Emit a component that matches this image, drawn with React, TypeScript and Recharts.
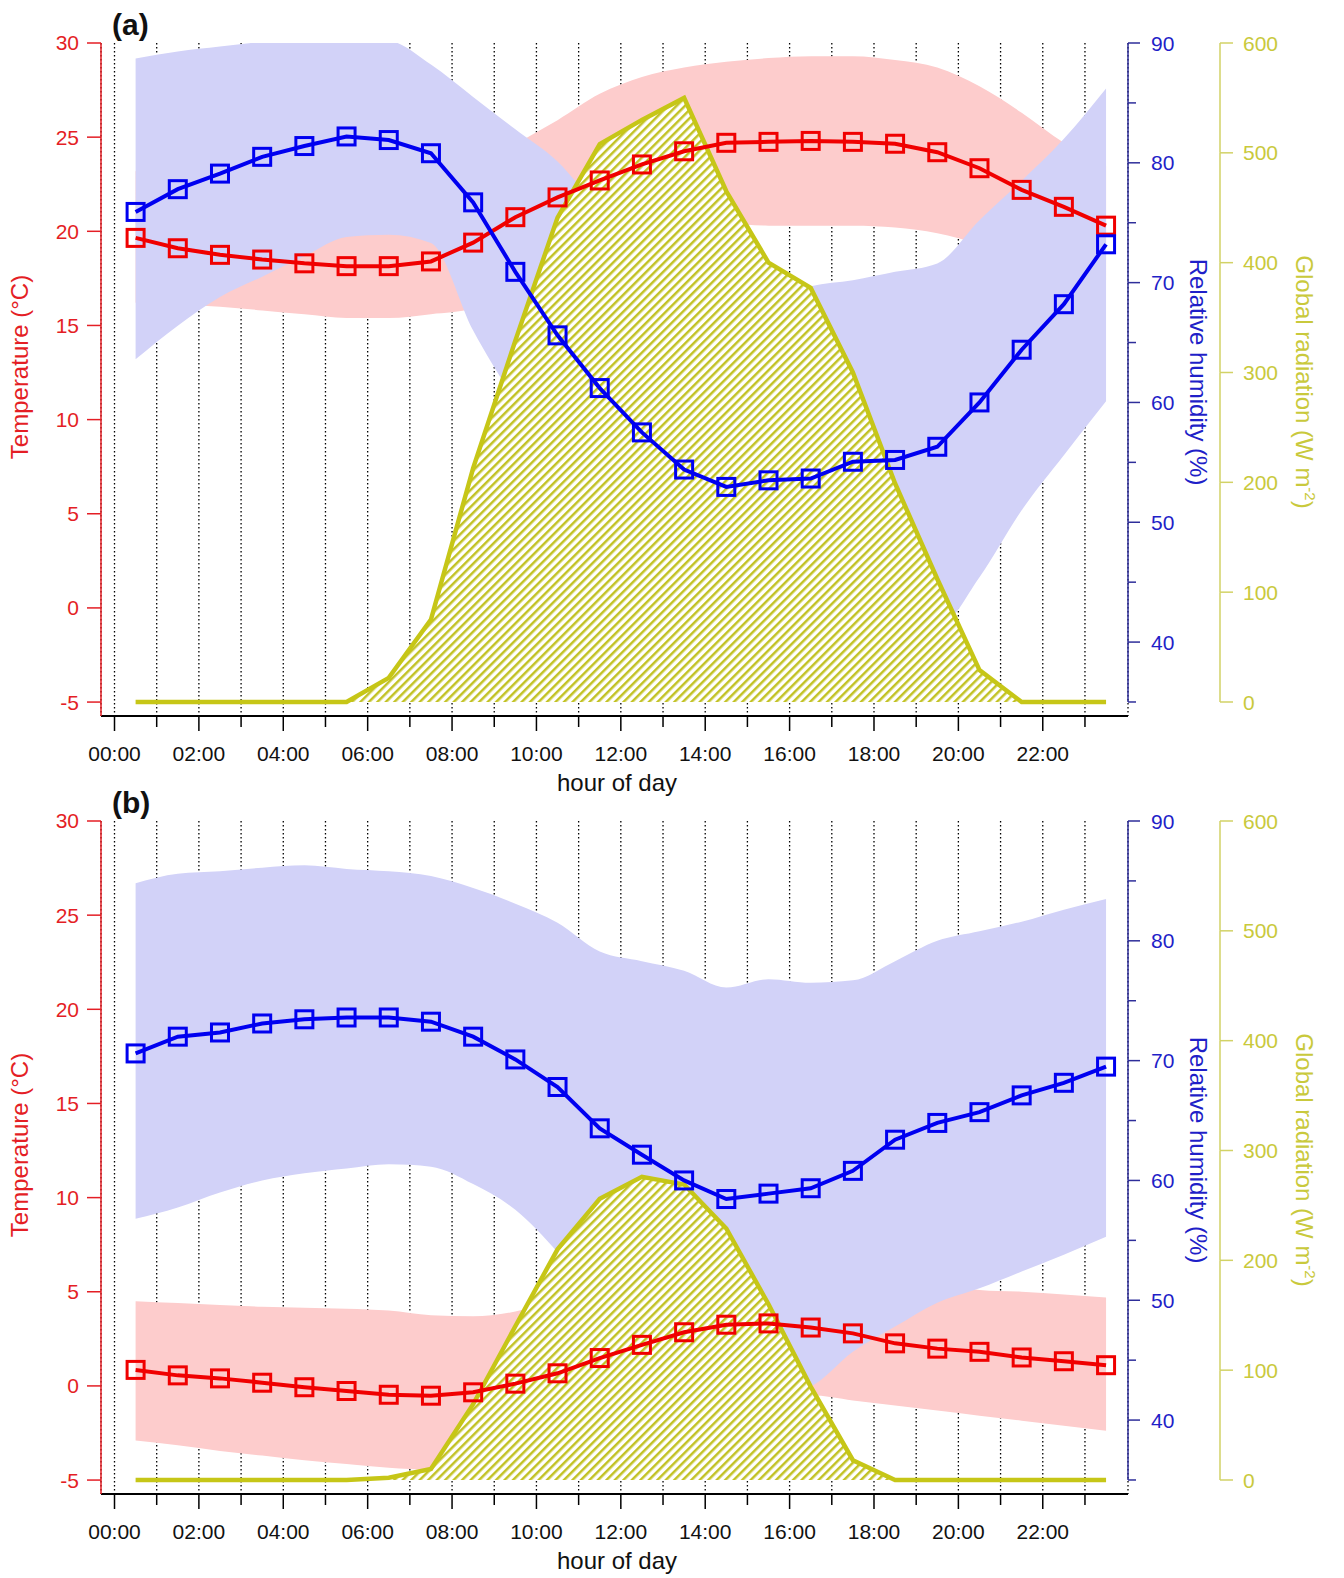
import { Area, CartesianGrid, ComposedChart, Line, XAxis, YAxis } from 'recharts'

// hour of day (half-hour centres) and axis ticks
const hours = [0.5, 1.5, 2.5, 3.5, 4.5, 5.5, 6.5, 7.5, 8.5, 9.5, 10.5, 11.5, 12.5, 13.5, 14.5, 15.5, 16.5, 17.5, 18.5, 19.5, 20.5, 21.5, 22.5, 23.5]
const hourTicks = [0, 1, 2, 3, 4, 5, 6, 7, 8, 9, 10, 11, 12, 13, 14, 15, 16, 17, 18, 19, 20, 21, 22, 23]
const tempTicks = [-5, 0, 5, 10, 15, 20, 25, 30]
const rhTicks = [35, 40, 45, 50, 55, 60, 65, 70, 75, 80, 85, 90]
const radTicks = [0, 100, 200, 300, 400, 500, 600]

// panel (a)
const tempA = [19.65, 19.1, 18.75, 18.5, 18.3, 18.15, 18.15, 18.4, 19.4, 20.75, 21.8, 22.7, 23.55, 24.25, 24.7, 24.75, 24.8, 24.75, 24.65, 24.2, 23.35, 22.2, 21.3, 20.3]
const tempLoA = [16.2, 16.1, 16.0, 15.8, 15.6, 15.4, 15.4, 15.6, 15.9, 17.0, 17.8, 18.5, 19.0, 19.9, 20.4, 20.3, 20.3, 20.3, 20.2, 19.9, 19.3, 18.4, 17.8, 17.4]
const tempHiA = [23.2, 22.3, 21.6, 21.2, 20.8, 20.6, 20.6, 21.2, 23.0, 24.6, 25.9, 27.3, 28.2, 28.7, 29.0, 29.2, 29.3, 29.3, 29.1, 28.7, 27.7, 26.3, 24.7, 23.5]
const rhA = [75.9, 77.8, 79.1, 80.5, 81.4, 82.2, 81.9, 80.8, 76.7, 70.9, 65.6, 61.2, 57.5, 54.4, 52.95, 53.5, 53.65, 55.05, 55.2, 56.3, 60.0, 64.4, 68.2, 73.2]
const rhLoA = [63.6, 66.4, 68.8, 70.5, 72.2, 73.8, 74.0, 73.3, 66.0, 60.0, 53.5, 49.0, 45.5, 42.5, 40.5, 40.5, 40.5, 40.5, 40.5, 41.0, 45.4, 51.0, 55.6, 60.1]
const rhHiA = [88.7, 89.3, 89.7, 90.1, 90.4, 90.4, 90.2, 88.2, 85.5, 82.8, 80.1, 76.0, 72.0, 69.0, 68.0, 68.5, 69.7, 70.2, 70.9, 71.6, 75.2, 78.5, 82.0, 86.2]
const radA = [0, 0, 0, 0, 0, 0, 22, 75, 213, 329, 441, 508, 530, 550, 465, 400, 377, 300, 199, 112, 29, 0, 0, 0]

// panel (b)
const tempB = [0.85, 0.56, 0.4, 0.17, -0.07, -0.27, -0.47, -0.52, -0.34, 0.12, 0.67, 1.48, 2.18, 2.85, 3.25, 3.32, 3.1, 2.79, 2.26, 1.98, 1.81, 1.51, 1.31, 1.1]
const tempLoB = [-2.9, -3.15, -3.45, -3.7, -3.95, -4.15, -4.35, -4.45, -4.2, -3.7, -3.1, -2.5, -1.9, -1.4, -1.0, -0.7, -0.5, -0.77, -1.04, -1.31, -1.58, -1.85, -2.12, -2.38]
const tempHiB = [4.5, 4.4, 4.3, 4.2, 4.15, 4.1, 4.0, 3.75, 3.7, 3.95, 4.6, 5.3, 5.9, 6.4, 6.7, 6.8, 6.6, 6.3, 5.8, 5.4, 5.1, 5.0, 4.85, 4.7]
const rhB = [70.6, 72.0, 72.35, 73.1, 73.45, 73.6, 73.6, 73.25, 72.0, 70.1, 67.8, 64.35, 62.15, 60.0, 58.45, 58.9, 59.35, 60.8, 63.4, 64.8, 65.7, 67.1, 68.15, 69.5]
const rhLoB = [56.8, 57.75, 59.0, 60.0, 60.6, 61.0, 61.35, 61.15, 59.7, 57.55, 54.0, 49.5, 46.0, 44.0, 42.5, 42.0, 42.8, 45.7, 47.8, 49.8, 51.0, 52.4, 53.8, 55.3]
const rhHiB = [84.8, 85.6, 85.8, 86.1, 86.3, 86.0, 85.8, 85.4, 84.4, 83.1, 81.5, 79.1, 78.3, 77.5, 76.1, 76.8, 76.5, 76.7, 78.3, 80.0, 80.8, 81.6, 82.6, 83.5]
const radB = [0, 0, 0, 0, 0, 0, 2, 10, 69, 140, 210, 256, 276, 269, 229, 160, 85, 18, 0, 0, 0, 0, 0, 0]

const FONT = '"Liberation Sans", Arial, Helvetica, sans-serif'
const RED_AXIS = '#e41e25'
const RED_LINE = '#f00000'
const BLUE_LINE = '#0000f0'
const BLUE_AXIS = '#2e2e9a'
const BLUE_TEXT = '#1f1fc8'
const OLIVE = '#c6c617'
const OLIVE_AXIS = '#d2d266'
const OLIVE_TEXT = '#c9c93c'
const PINK = '#fdcccc'
const LAVENDER = '#d2d2f8'

const W = 1344
const H = 796
const TOP = 43
const X_AXIS_H = 80
const PLOT_H = H - TOP - X_AXIS_H
const LEFT_W = 101
const RH_W = 92
const RAD_W = 124

// x axis sits a little below -5 °C / 35 % / 0 W m-2, so domains reach under them
const X_DOMAIN = [-0.32, 24.02]
const TEMP_DOMAIN = [-5.74, 30]
const RH_DOMAIN = [33.83, 90]
const RAD_DOMAIN = [-12.75, 600]
const RH_STEP = (5 * PLOT_H) / (RH_DOMAIN[1] - RH_DOMAIN[0])
const RAD_STEP = (100 * PLOT_H) / (RAD_DOMAIN[1] - RAD_DOMAIN[0])

function buildRows(t: number[], tLo: number[], tHi: number[], rh: number[], rhLo: number[], rhHi: number[], rad: number[]) {
  return hours.map((h, i) => ({
    hour: h,
    temp: t[i],
    tBand: [tLo[i], tHi[i]],
    rh: rh[i],
    rhBand: [rhLo[i], rhHi[i]],
    rad: rad[i],
  }))
}

const rowsA = buildRows(tempA, tempLoA, tempHiA, rhA, rhLoA, rhHiA, radA)
const rowsB = buildRows(tempB, tempLoB, tempHiB, rhB, rhLoB, rhHiB, radB)

function HourTick({ x, y, payload }: any) {
  const h = payload.value as number
  const major = h % 2 === 0
  return (
    <g>
      <line x1={x} x2={x} y1={y} y2={y + (major ? 15 : 11)} stroke="#000" strokeWidth={1.5} />
      {major && (
        <text x={x} y={y + 45} textAnchor="middle" fontSize={21} fontFamily={FONT} fill="#111">
          {String(h).padStart(2, '0')}:00
        </text>
      )}
    </g>
  )
}

function RhTick({ x, y, payload }: any) {
  const v = payload.value as number
  const major = v % 10 === 0
  return (
    <g>
      {v < 90 && <line x1={x} x2={x} y1={y} y2={y - RH_STEP} stroke={BLUE_AXIS} strokeWidth={1.5} />}
      <line x1={x} x2={x + (major ? 12 : 8)} y1={y} y2={y} stroke={BLUE_AXIS} strokeWidth={1.5} />
      {major && (
        <text x={x + 23} y={y} dy="0.36em" fontSize={21} fontFamily={FONT} fill={BLUE_TEXT}>
          {v}
        </text>
      )}
    </g>
  )
}

function RadTick({ x, y, payload }: any) {
  const v = payload.value as number
  return (
    <g>
      {v < 600 && <line x1={x} x2={x} y1={y} y2={y - RAD_STEP} stroke={OLIVE_AXIS} strokeWidth={1.5} />}
      <line x1={x} x2={x + 13} y1={y} y2={y} stroke={OLIVE_AXIS} strokeWidth={1.5} />
      <text x={x + 23} y={y} dy="0.36em" fontSize={21} fontFamily={FONT} fill={OLIVE_TEXT}>
        {v}
      </text>
    </g>
  )
}

function squareDot(color: string) {
  return (p: any) => (
    <rect key={`sq-${color}-${p.index}`} x={p.cx - 8.5} y={p.cy - 8.5} width={17} height={17} fill="none" stroke={color} strokeWidth={3} />
  )
}

function Panel({ letter, rows, top }: { letter: string; rows: ReturnType<typeof buildRows>; top: number }) {
  const hatchId = `hatch-${letter}`
  return (
    <div style={{ position: 'absolute', left: 0, top, width: W, height: H }}>
      <ComposedChart width={W} height={H} data={rows} margin={{ top: TOP, right: 0, bottom: 0, left: 0 }}>
        <defs>
          <pattern id={hatchId} patternUnits="userSpaceOnUse" width={6} height={6} patternTransform="rotate(45)">
            <rect width={6} height={6} fill="#fff" />
            <rect width={2.5} height={6} fill="#c2c225" />
          </pattern>
        </defs>
        <CartesianGrid yAxisId="temp" horizontal={false} stroke="#000" strokeWidth={1.3} strokeDasharray="1.5 2.5" />
        <XAxis
          dataKey="hour"
          type="number"
          domain={X_DOMAIN}
          allowDataOverflow
          ticks={hourTicks}
          interval={0}
          height={X_AXIS_H}
          tickSize={0}
          tickMargin={0}
          tickLine={false}
          axisLine={{ stroke: '#000', strokeWidth: 1.8 }}
          tick={HourTick}
        />
        <YAxis
          yAxisId="temp"
          orientation="left"
          width={LEFT_W}
          domain={TEMP_DOMAIN}
          allowDataOverflow
          ticks={tempTicks}
          interval={0}
          tickSize={14}
          tickMargin={8}
          tick={{ fill: RED_AXIS, fontSize: 21, fontFamily: FONT }}
          tickLine={{ stroke: RED_AXIS, strokeWidth: 1.5 }}
          axisLine={{ stroke: RED_AXIS, strokeWidth: 1.5 }}
        />
        <YAxis
          yAxisId="rad"
          orientation="right"
          width={RAD_W}
          domain={RAD_DOMAIN}
          allowDataOverflow
          ticks={radTicks}
          interval={0}
          tickSize={0}
          tickMargin={0}
          tickLine={false}
          axisLine={false}
          tick={RadTick}
        />
        <YAxis
          yAxisId="hum"
          orientation="right"
          width={RH_W}
          domain={RH_DOMAIN}
          allowDataOverflow
          ticks={rhTicks}
          interval={0}
          tickSize={0}
          tickMargin={0}
          tickLine={false}
          axisLine={false}
          tick={RhTick}
        />
        <Area yAxisId="temp" dataKey="tBand" type="monotone" stroke="none" fill={PINK} fillOpacity={1} isAnimationActive={false} />
        <Area yAxisId="hum" dataKey="rhBand" type="monotone" stroke="none" fill={LAVENDER} fillOpacity={1} isAnimationActive={false} />
        <Area
          yAxisId="rad"
          dataKey="rad"
          type="linear"
          baseValue={0}
          stroke={OLIVE}
          strokeWidth={4.5}
          fill={`url(#${hatchId})`}
          fillOpacity={1}
          isAnimationActive={false}
        />
        <Line yAxisId="temp" dataKey="temp" type="linear" stroke={RED_LINE} strokeWidth={4} dot={squareDot(RED_LINE)} activeDot={false} isAnimationActive={false} />
        <Line yAxisId="hum" dataKey="rh" type="linear" stroke={BLUE_LINE} strokeWidth={4} dot={squareDot(BLUE_LINE)} activeDot={false} isAnimationActive={false} />
      </ComposedChart>
      <svg width={W} height={H} style={{ position: 'absolute', left: 0, top: 0, pointerEvents: 'none' }}>
        <text x={112} y={35} fontSize={30} fontWeight="bold" fontFamily={FONT} fill="#111">
          ({letter})
        </text>
        <text transform="translate(20,367) rotate(-90)" textAnchor="middle" dy="0.35em" fontSize={24} fontFamily={FONT} fill={RED_AXIS}>
          Temperature (°C)
        </text>
        <text transform="translate(1198,372) rotate(90)" textAnchor="middle" dy="0.35em" fontSize={24} fontFamily={FONT} fill={BLUE_TEXT}>
          Relative humidity (%)
        </text>
        <text transform="translate(1304,382) rotate(90)" textAnchor="middle" dy="0.35em" fontSize={24} fontFamily={FONT} fill={OLIVE_TEXT}>
          Global radiation (W m
          <tspan dy={-9} fontSize={15}>
            -2
          </tspan>
          <tspan dy={9}>)</tspan>
        </text>
        <text x={617} y={791} textAnchor="middle" fontSize={24} fontFamily={FONT} fill="#111">
          hour of day
        </text>
      </svg>
    </div>
  )
}

export default function App() {
  return (
    <div style={{ position: 'absolute', left: 0, top: 0, width: 1344, height: 1578, background: '#fff', overflow: 'hidden' }}>
      <Panel letter="a" rows={rowsA} top={0} />
      <Panel letter="b" rows={rowsB} top={778} />
    </div>
  )
}
